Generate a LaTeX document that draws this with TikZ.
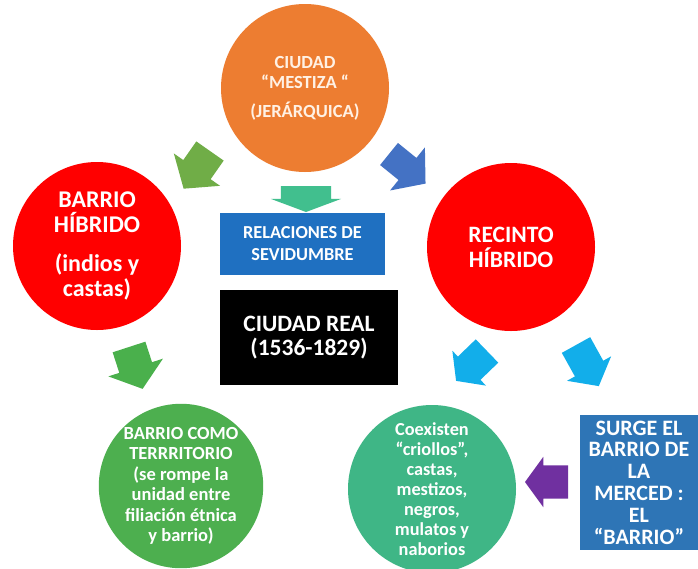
\documentclass[tikz,border=0pt]{standalone}
\usepackage{fontspec}
\setmainfont{Carlito}
\usetikzlibrary{shapes.arrows}
\definecolor{corange}{HTML}{ED7D31}
\definecolor{cred}{HTML}{FF0000}
\definecolor{cblueA}{HTML}{1F70C1}
\definecolor{cblueB}{HTML}{2E75B6}
\definecolor{cgreen}{HTML}{4DAF4F}
\definecolor{cteal}{HTML}{3FB686}
\definecolor{agreenA}{HTML}{70AD47}
\definecolor{ablue}{HTML}{4472C4}
\definecolor{ateal}{HTML}{41BF8E}
\definecolor{agreenB}{HTML}{4AB04C}
\definecolor{acyan}{HTML}{12AEEA}
\definecolor{apurple}{HTML}{7030A0}
\definecolor{cream}{HTML}{FFF1E4}
\tikzset{
  circ/.style={circle, draw=none, inner sep=0pt, minimum size=#1, text=white, align=center},
  box/.style={rectangle, draw=none, inner sep=0pt, text=white, align=center},
  blk/.style={single arrow, draw=none, inner xsep=0pt, outer sep=0pt, single arrow head indent=0pt, anchor=tail},
}
\newcommand{\fs}[2]{\bfseries\fontsize{#1}{#2}\selectfont}
\begin{document}
\begin{tikzpicture}[x=1pt,y=1pt]
\useasboundingbox (0,0) rectangle (698,-568);
\clip (0,0) rectangle (698,-568);
\fill[white] (0,0) rectangle (698,-568);

% circles
\node[circ=168, fill=corange, text=cream, font=\fs{18.5}{20}] (mestiza) at (305,-88)
  {CIUDAD\\ “MESTIZA “\\[9pt] (JERÁRQUICA)};
\node[circ=168, fill=cred, font=\fs{24}{25}] (barrio) at (97,-246)
  {BARRIO\\ HÍBRIDO\\[14pt] (indios y\\ castas)};
\node[circ=168, fill=cred, font=\fs{23.5}{25}] (recinto) at (511,-247)
  {RECINTO\\ HÍBRIDO};
\node[circ=164, fill=cgreen, font=\fs{18.5}{20.5}] (territorio) at (181,-486)
  {BARRIO COMO\\ TERRRITORIO\\ (se rompe la\\ unidad entre\\ filiación étnica\\ y barrio)};
\node[circ=168, fill=cteal, font=\fs{18.3}{20}] (coexisten) at (432,-489)
  {Coexisten\\ “criollos”,\\ castas,\\ mestizos,\\ negros,\\ mulatos y\\ naborios};

% boxes
\node[box, fill=cblueA, minimum width=165, minimum height=62, font=\fs{18.3}{22}] (relaciones) at (302.5,-244)
  {RELACIONES DE\\ SEVIDUMBRE};
\node[box, fill=black, minimum width=178, minimum height=95, font=\fs{23.5}{24}] (real) at (309,-337.5)
  {CIUDAD REAL\\ (1536-1829)};
\node[box, fill=cblueB, minimum width=118, minimum height=135, font=\fs{22}{21.8}] (merced) at (639,-482.5)
  {SURGE EL\\ BARRIO DE\\ LA\\ MERCED :\\ EL\\ “BARRIO”};

% block arrows
\node[blk, fill=agreenA, minimum height=46, inner ysep=16.5, single arrow head extend=11.5, single arrow tip angle=101, rotate=235] (a1) at (210,-151) {};
\node[blk, fill=ablue, minimum height=47, inner ysep=14, single arrow head extend=13.5, single arrow tip angle=100, rotate=-39] (a2) at (389,-154) {};
\node[blk, fill=ateal, minimum height=26, inner ysep=25, single arrow head extend=10, single arrow tip angle=139, rotate=-90] (a3) at (306,-186) {};
\node[blk, fill=agreenB, minimum height=44, inner ysep=17, single arrow head extend=11.5, single arrow tip angle=104, rotate=-72] (a4) at (129,-347) {};
\node[blk, fill=acyan, minimum height=43, inner ysep=16, single arrow head extend=8, single arrow tip angle=106, rotate=224] (a5) at (487,-351) {};
\node[blk, fill=acyan, minimum height=47, inner ysep=16, single arrow head extend=9, single arrow tip angle=103, rotate=-61] (a6) at (576,-345) {};
\node[blk, fill=apurple, minimum height=43, inner ysep=16.5, single arrow head extend=8.5, single arrow tip angle=108, rotate=180] (a7) at (568,-482) {};
\end{tikzpicture}
\end{document}
